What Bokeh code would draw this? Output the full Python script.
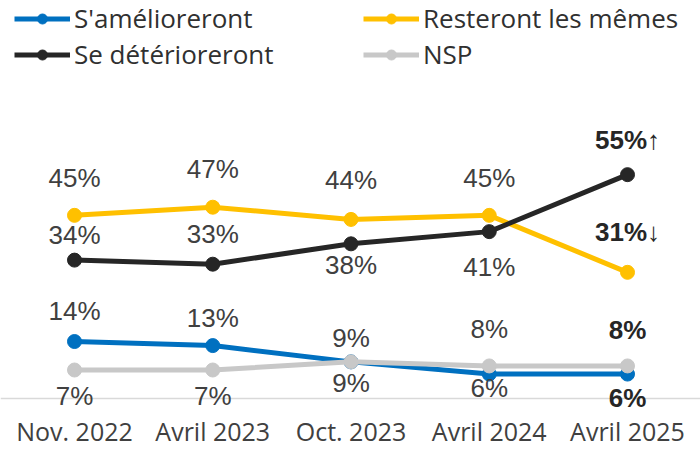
from bokeh.plotting import figure
from bokeh.models import Range1d, FixedTicker, Legend, LegendItem, ColumnDataSource, Span
from bokeh.core.properties import value
from bokeh.embed import file_html
from bokeh.resources import INLINE

# ---- data ----
categories = ["Nov. 2022", "Avril 2023", "Oct. 2023", "Avril 2024", "Avril 2025"]
ameliorer = [14, 13, 9, 6, 6]
memes = [45, 47, 44, 45, 31]
deteriorer = [34, 33, 38, 41, 55]
nsp = [7, 7, 9, 8, 8]

names = ["S'amélioreront", "Resteront les mêmes", "Se détérioreront", "NSP"]
colors = ["#0070C0", "#FFC000", "#262626", "#C8C8C8"]
last_suffix = ["", "\u2193", "\u2191", ""]
# label placement (screen px, negative = above the point)
label_offsets = [
    [-31, -28, 21, 14, 24],
    [-37, -38, -39, -37, -40],
    [-25, -30, 21, 35, -35],
    [26, 26, -24, -37, -36],
]
series = [ameliorer, memes, deteriorer, nsp]

xs = list(range(len(categories)))

p = figure(frame_width=700, frame_height=412,
           x_range=Range1d(-0.5353, 4.528), y_range=Range1d(-3.44, 97.79),
           y_axis_location=None,
           output_backend="svg", toolbar_location=None,
           min_border_left=0, min_border_right=0, min_border_top=0, min_border_bottom=0)
p.outline_line_color = None
p.xgrid.visible = False
p.ygrid.visible = False

ax = p.xaxis[0]
ax.ticker = FixedTicker(ticks=xs)
ax.major_label_overrides = {i: c for i, c in enumerate(categories)}
ax.axis_line_color = None
ax.major_tick_line_color = None
ax.minor_tick_line_color = None
ax.major_tick_out = 0
ax.major_tick_in = 0
ax.minor_tick_out = 0
ax.minor_tick_in = 0
ax.major_label_standoff = 1
ax.major_label_text_font = "Open Sans"
ax.major_label_text_font_size = "25px"
ax.major_label_text_color = "#404040"

# baseline at 0
p.add_layout(Span(location=0, dimension="width", line_color="#D9D9D9",
                  line_width=1.5, level="underlay"))

renderers = {}
order = [0, 1, 2, 3]
for k in order:
    vals = series[k]
    src = ColumnDataSource(dict(x=xs, y=vals))
    ln = p.line("x", "y", source=src, line_color=colors[k], line_width=5)
    sc = p.scatter("x", "y", source=src, size=14, marker="circle",
                   fill_color=colors[k], line_color=colors[k])
    renderers[k] = (ln, sc)

# data labels
nx, ny, nt, no = [], [], [], []
bx, by, bt, bo = [], [], [], []
for k in order:
    vals = series[k]
    for i, v in enumerate(vals):
        off = label_offsets[k][i]
        if i == len(vals) - 1:
            bx.append(i); by.append(v); bt.append(f"{v}%{last_suffix[k]}"); bo.append(off)
        else:
            nx.append(i); ny.append(v); nt.append(f"{v}%"); no.append(off)

p.text("x", "y", text="t", y_offset="o",
       source=ColumnDataSource(dict(x=nx, y=ny, t=nt, o=no)),
       text_font=value("Liberation Sans"), text_font_size="26px",
       text_color="#404040", text_align="center", text_baseline="middle")
p.text("x", "y", text="t", y_offset="o",
       source=ColumnDataSource(dict(x=bx, y=by, t=bt, o=bo)),
       text_font=value("Liberation Sans"), text_font_size="26px",
       text_font_style="bold",
       text_color="#262626", text_align="center", text_baseline="middle")


def make_legend(idx, loc):
    leg = Legend(items=[LegendItem(label=names[k], renderers=list(renderers[k])) for k in idx],
                 location=loc, orientation="vertical")
    leg.margin = 0
    leg.padding = 0
    leg.spacing = 0
    leg.border_line_color = None
    leg.background_fill_alpha = 0
    leg.glyph_width = 56
    leg.glyph_height = 25
    leg.label_height = 25
    leg.label_standoff = 4
    leg.label_text_font = "Open Sans"
    leg.label_text_font_size = "26px"
    leg.label_text_color = "#303030"
    return leg


p.add_layout(make_legend([0, 2], (14, 340)))
p.add_layout(make_legend([1, 3], (363, 340)))

open("out.html", "w").write(file_html(p, INLINE))
